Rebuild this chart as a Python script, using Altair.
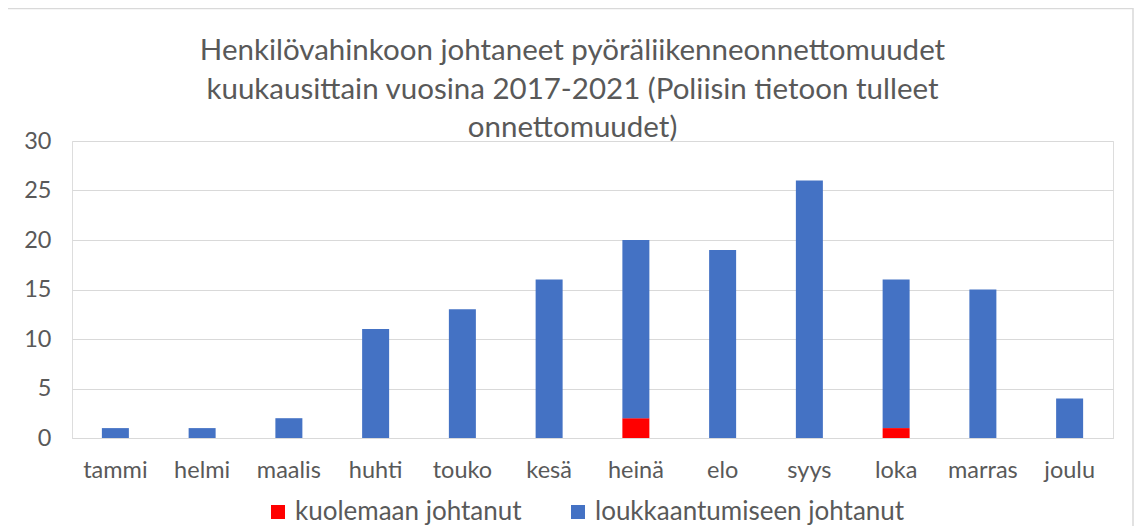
import altair as alt
import pandas as pd

months = ["tammi", "helmi", "maalis", "huhti", "touko", "kesä", "heinä",
          "elo", "syys", "loka", "marras", "joulu"]
kuolema = [0, 0, 0, 0, 0, 0, 2, 0, 0, 1, 0, 0]
loukkaantuminen = [1, 1, 2, 11, 13, 16, 18, 19, 26, 15, 15, 4]
series = ["kuolemaan johtanut", "loukkaantumiseen johtanut"]
colors = ["#FF0000", "#4472C4"]
y_ticks = [0, 5, 10, 15, 20, 25, 30]
title_lines = ["Henkilövahinkoon johtaneet pyöräliikenneonnettomuudet",
               "kuukausittain vuosina 2017-2021 (Poliisin tietoon tulleet",
               "onnettomuudet)"]

rows = []
for i, m in enumerate(months):
    rows.append({"kk": m, "sarja": series[0], "arvo": kuolema[i], "ord": 0})
    rows.append({"kk": m, "sarja": series[1], "arvo": loukkaantuminen[i], "ord": 1})
df = pd.DataFrame(rows)

FONT = "Lato"
TXT = "#595959"
GRID = "#d9d9d9"

bars = alt.Chart(df).mark_bar(size=27).encode(
    x=alt.X("kk:N", sort=months, title=None,
            scale=alt.Scale(paddingInner=0, paddingOuter=0),
            axis=alt.Axis(labelAngle=0, ticks=False, domainColor=GRID, domainWidth=1,
                          labelPadding=20, labelFontSize=23.5, labelColor=TXT,
                          labelFont=FONT, grid=False)),
    y=alt.Y("arvo:Q", stack="zero", title=None,
            scale=alt.Scale(domain=[0, 30], nice=False),
            axis=alt.Axis(values=y_ticks, ticks=False, domain=False, gridColor=GRID,
                          gridWidth=1, labelPadding=21, labelFontSize=23.5,
                          labelColor=TXT, labelFont=FONT)),
    color=alt.Color("sarja:N", scale=alt.Scale(domain=series, range=colors),
                    legend=alt.Legend(title=None, orient="none", direction="horizontal",
                                      legendX=193, legendY=358, symbolType="square",
                                      symbolSize=196, symbolStrokeWidth=0,
                                      labelFontSize=26, labelColor=TXT, labelFont=FONT,
                                      labelOffset=4, columnPadding=43, padding=0,
                                      labelLimit=500)),
    order=alt.Order("ord:Q"),
)

border = alt.Chart(pd.DataFrame({"a": [0]})).mark_rect(
    fill=None, stroke=GRID, strokeWidth=1.5, clip=False
).encode(
    x=alt.value(-65), x2=alt.value(1061), y=alt.value(-132.5), y2=alt.value(420)
)

chart = alt.layer(border, bars).properties(
    width=1041, height=297,
    title=alt.TitleParams(text=title_lines, fontSize=29.5, font=FONT, color=TXT,
                          fontWeight="normal", anchor="middle", lineHeight=38.5,
                          offset=-136, dx=-20),
    autosize=alt.AutoSizeParams(type="none"),
    padding={"left": 64, "top": 133, "right": 21, "bottom": 88},
).configure_view(stroke=None).configure(background="white")

chart.save("out.html", embed_options={"renderer": "svg", "actions": False})
